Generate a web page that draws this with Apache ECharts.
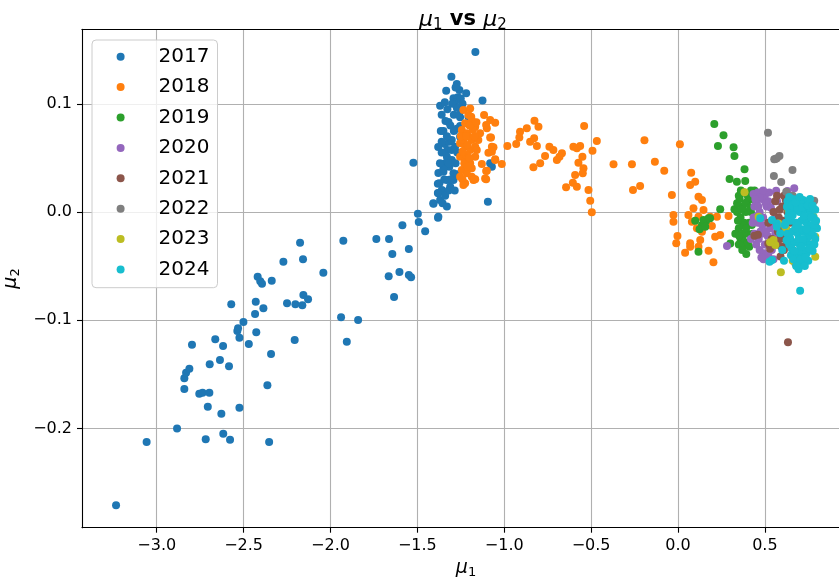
<!DOCTYPE html>
<html><head><meta charset="utf-8">
<script src="https://cdn.jsdelivr.net/npm/echarts@6/dist/echarts.min.js"></script>
<style>html,body{margin:0;padding:0;background:#fff}#c{width:839px;height:583px}</style>
</head><body><div id="c"></div>
<script>
const years = ['2017','2018','2019','2020','2021','2022','2023','2024'];
const colors = ['#1f77b4','#ff7f0e','#2ca02c','#9467bd','#8c564b','#7f7f7f','#bcbd22','#17becf'];
const xTicks = [-3.0,-2.5,-2.0,-1.5,-1.0,-0.5,0.0,0.5];
const yTicks = [-0.2,-0.1,0.0,0.1];

const s2017 = [[-3.234,-0.271],[-3.058,-0.2126],[-2.883,-0.200],[-2.718,-0.210],[-2.617,-0.205],[-2.578,-0.2104],[-2.353,-0.2126],[-2.628,-0.1864],[-2.706,-0.180],[-2.524,-0.181],[-2.755,-0.168],[-2.736,-0.167],[-2.697,-0.167],[-2.841,-0.1636],[-2.841,-0.1537],[-2.831,-0.1485],[-2.812,-0.1448],[-2.797,-0.1226],[-2.695,-0.1408],[-2.636,-0.1368],[-2.584,-0.1426],[-2.663,-0.1177],[-2.618,-0.1238],[-2.363,-0.1602],[-2.342,-0.1312],[-2.470,-0.122],[-2.524,-0.1162],[-2.536,-0.110],[-2.532,-0.1075],[-2.501,-0.1017],[-2.427,-0.1112],[-2.434,-0.0943],[-2.386,-0.089],[-2.430,-0.0829],[-2.571,-0.0853],[-2.419,-0.0598],[-2.404,-0.0640],[-2.394,-0.0663],[-2.338,-0.0635],[-2.271,-0.0459],[-2.175,-0.0284],[-2.158,-0.0437],[-2.250,-0.0844],[-2.202,-0.0853],[-2.162,-0.0862],[-2.156,-0.0767],[-2.129,-0.0807],[-2.206,-0.1183],[-2.041,-0.0561],[-1.926,-0.0265],[-1.939,-0.0973],[-1.841,-0.0998],[-1.906,-0.1199],[-1.736,-0.0250],[-1.663,-0.0250],[-1.644,-0.0388],[-1.586,-0.0123],[-1.549,-0.0342],[-1.665,-0.0594],[-1.603,-0.0555],[-1.549,-0.0582],[-1.536,-0.0604],[-1.634,-0.0786],[-1.497,-0.0016],[-1.492,-0.0092],[-1.455,-0.0178],[-1.523,0.0456],[-1.379,0.036],[-1.382,0.0262],[-1.382,0.0176],[-1.407,0.0077],[-1.381,-0.0053],[-1.166,0.148],[-1.379,-0.0043],[-1.094,0.0095],[-1.304,0.125],[-1.334,0.1121],[-1.273,0.1183],[-1.258,0.1128],[-1.292,0.1051],[-1.219,0.1097],[-1.267,0.1060],[-1.283,0.1010],[-1.369,0.0982],[-1.342,0.1014],[-1.327,0.0949],[-1.273,0.0964],[-1.125,0.1032],[-1.338,0.0841],[-1.321,0.0832],[-1.254,0.0875],[-1.206,0.0881],[-1.273,0.0770],[-1.254,0.0795],[-1.342,0.0628],[-1.327,0.0573],[-1.316,0.0650],[-1.330,0.0511],[-1.340,0.0450],[-1.316,0.0419],[-1.350,0.0373],[-1.330,0.0296],[-1.373,0.0265],[-1.359,0.0203],[-1.379,0.0173],[-1.369,0.0111],[-1.408,0.0080],[-1.302,0.0573],[-1.302,0.0481],[-1.292,0.0358],[-1.311,0.0234],[-1.283,0.0604],[-1.292,0.0296],[-1.302,0.0665],[-1.254,0.0696],[-1.081,0.045],[-1.071,0.0419],[-1.36,0.09],[-1.35,0.075],[-1.33,0.07],[-1.36,0.055],[-1.35,0.04],[-1.32,0.045],[-1.31,0.03],[-1.345,0.03],[-1.36,0.065],[-1.31,0.08],[-1.29,0.09],[-1.30,0.1],[-1.28,0.115],[-1.25,0.105],[-1.24,0.1],[-1.26,0.09],[-1.29,0.075],[-1.32,0.02],[-1.34,0.015],[-1.355,0.008],[-1.33,0.005],[-1.28,0.045],[-1.27,0.055],[-1.27,0.035],[-1.285,0.02],[-1.365,0.075],[-1.37,0.045],[-1.38,0.06]];

const s2018 = [[-1.235,0.0943],[-1.196,0.0958],[-1.206,0.0897],[-1.225,0.0820],[-1.187,0.0850],[-1.167,0.0788],[-1.158,0.0696],[-1.244,0.0758],[-1.215,0.0727],[-1.187,0.0665],[-1.254,0.0635],[-1.225,0.0604],[-1.196,0.0573],[-1.167,0.0604],[-1.254,0.0511],[-1.225,0.0481],[-1.196,0.0450],[-1.167,0.0511],[-1.244,0.0388],[-1.215,0.0358],[-1.187,0.0326],[-1.254,0.0326],[-1.225,0.0265],[-1.177,0.0296],[-1.149,0.0665],[-1.139,0.0727],[-1.158,0.0573],[-1.206,0.0696],[-1.235,0.0665],[-1.215,0.0527],[-1.187,0.0404],[-1.240,0.0560],[-1.210,0.0620],[-1.180,0.0760],[-1.230,0.0450],[-1.200,0.0500],[-1.170,0.0700],[-1.250,0.0700],[-1.220,0.0700],[-1.190,0.0880],[-1.210,0.0420],[-1.240,0.0300],[-1.200,0.0800],[-1.160,0.0830],[-1.081,0.085],[-1.052,0.0825],[-1.100,0.0774],[-1.076,0.069],[-1.071,0.0604],[-1.091,0.0548],[-0.982,0.061],[-1.052,0.0487],[-1.129,0.0444],[-1.100,0.0382],[-1.014,0.0444],[-1.110,0.0311],[-1.167,0.0302],[-1.235,0.025],[-1.104,0.0379],[-1.104,0.0302],[-1.172,0.0302],[-1.052,0.0481],[-1.104,0.0804],[-1.081,0.069],[-1.062,0.0598],[-1.071,0.0557],[-1.116,0.0896],[-0.826,0.0844],[-0.803,0.0788],[-0.870,0.0774],[-0.909,0.0742],[-0.913,0.069],[-0.828,0.0681],[-0.851,0.065],[-0.812,0.061],[-0.931,0.0628],[-0.740,0.0604],[-0.717,0.0573],[-0.668,0.0543],[-0.682,0.0511],[-0.697,0.0481],[-0.765,0.0518],[-0.793,0.0450],[-0.832,0.0413],[-0.540,0.0795],[-0.467,0.0656],[-0.492,0.0567],[-0.602,0.0604],[-0.563,0.061],[-0.582,0.0589],[-0.550,0.0511],[-0.573,0.0456],[-0.544,0.0404],[-0.548,0.0358],[-0.592,0.0342],[-0.605,0.0271],[-0.644,0.0228],[-0.582,0.0234],[-0.515,0.0203],[-0.505,0.0104],[-0.496,-0.0003],[-0.371,0.0441],[-0.265,0.0441],[-0.259,0.0203],[-0.218,0.024],[-0.193,0.0663],[0.011,0.0626],[-0.133,0.0465],[-0.079,0.0382],[-0.035,0.0157],[0.076,0.0363],[0.099,0.028],[0.070,0.025],[0.118,0.0141],[0.138,0.0111],[0.089,0.0034],[0.147,0.0018],[0.118,-0.0043],[0.060,-0.0028],[-0.026,-0.0028],[-0.026,-0.009],[0.080,-0.009],[0.185,-0.0043],[0.224,-0.0043],[0.291,-0.0037],[0.195,-0.0129],[0.138,-0.0182],[0.109,-0.0151],[-0.003,-0.0222],[-0.010,-0.0289],[0.070,-0.0289],[0.070,-0.0321],[0.128,-0.0259],[0.118,-0.0321],[0.041,-0.0376],[0.176,-0.0358],[0.214,-0.0228],[0.243,-0.0213],[0.204,-0.0465]];

const s2019 = [[0.209,0.0813],[0.262,0.0709],[0.230,0.061],[0.320,0.0598],[0.325,0.0518],[0.383,0.0395],[0.297,0.0305],[0.339,0.028],[0.387,0.0287],[0.243,0.0025],[0.325,0.0025],[0.185,-0.0058],[0.162,-0.008],[0.138,-0.012],[0.124,-0.016],[0.099,-0.008],[0.118,-0.0367],[0.393,-0.0388],[0.147,-0.0074],[0.176,-0.0058],[0.157,-0.0136],[0.301,-0.029],[0.35,0.015],[0.37,0.005],[0.36,-0.005],[0.35,-0.015],[0.37,-0.025],[0.39,-0.03],[0.40,0.01],[0.41,-0.01],[0.38,0.018],[0.42,0.02],[0.44,0.02],[0.45,0.015],[0.34,0.0],[0.36,-0.025],[0.33,-0.02],[0.35,-0.03],[0.40,-0.02],[0.38,-0.01],[0.42,0.0],[0.43,-0.02],[0.39,0.0],[0.34,0.008],[0.37,-0.035],[0.41,0.012],[0.355,0.012],[0.372,-0.012],[0.388,0.008],[0.402,-0.028],[0.415,0.004],[0.345,-0.008],[0.362,0.02],[0.398,0.016],[0.425,-0.012],[0.378,-0.02],[0.352,-0.022],[0.41,-0.032],[0.365,0.002],[0.392,-0.015],[0.43,0.012]];

const s2020 = [[0.282,-0.0314],[0.565,0.0197],[0.630,0.0194],[0.669,0.0219],[0.435,0.0166],[0.492,-0.0437],[0.550,-0.0437],[0.45,0.01],[0.47,0.0],[0.46,-0.01],[0.48,-0.02],[0.50,-0.03],[0.52,0.01],[0.50,0.015],[0.49,-0.005],[0.44,-0.02],[0.45,-0.03],[0.53,-0.015],[0.55,0.0],[0.56,-0.02],[0.54,-0.035],[0.47,-0.035],[0.43,-0.01],[0.51,0.005],[0.48,0.012],[0.42,-0.025],[0.57,0.01],[0.58,-0.01],[0.46,0.018],[0.52,-0.04],[0.44,0.005],[0.455,-0.004],[0.472,0.014],[0.485,-0.012],[0.505,0.008],[0.515,-0.022],[0.465,-0.025],[0.495,-0.038],[0.535,0.004],[0.545,-0.01],[0.525,0.018],[0.475,-0.018],[0.445,0.012],[0.505,-0.018],[0.555,-0.028],[0.435,-0.005],[0.49,0.02],[0.565,-0.005],[0.53,-0.045],[0.48,-0.042],[0.462,0.005]];

const s2021 = [[0.633,-0.1204],[0.56,0.010],[0.62,0.011],[0.58,-0.005],[0.60,-0.015],[0.59,-0.025],[0.61,-0.035],[0.63,0.0],[0.64,-0.02],[0.57,-0.03],[0.52,-0.01],[0.54,-0.025],[0.44,-0.022],[0.46,-0.021],[0.52,-0.029],[0.53,-0.034],[0.59,-0.041],[0.65,0.005],[0.60,0.005],[0.66,-0.035],[0.55,0.0],[0.585,0.002],[0.605,-0.008],[0.615,-0.022],[0.625,-0.03],[0.575,-0.018],[0.595,-0.032],[0.645,-0.01],[0.57,0.015],[0.61,0.015]];

const s2022 = [[0.518,0.0733],[0.554,0.0487],[0.561,0.049],[0.569,0.0496],[0.584,0.0518],[0.659,0.0388],[0.552,0.0333],[0.594,0.0277],[0.623,0.0188],[0.784,0.0104],[0.780,-0.0296],[0.790,-0.0105],[0.675,-0.0474],[0.713,-0.0413],[0.77,0.005],[0.66,0.015],[0.70,0.012]];

const s2023 = [[0.383,0.0182],[0.592,-0.0557],[0.464,-0.0043],[0.550,-0.0259],[0.560,-0.0305],[0.617,-0.0136],[0.627,-0.0166],[0.703,-0.0474],[0.780,-0.0043],[0.790,-0.0228],[0.790,-0.0413],[0.636,0.0018],[0.579,-0.0105],[0.53,-0.028],[0.66,-0.045],[0.74,0.008],[0.69,-0.04]];

const s2024 = [[0.63,0.010],[0.66,0.012],[0.69,0.012],[0.72,0.011],[0.75,0.010],[0.64,0.0],[0.67,0.002],[0.70,0.0],[0.73,0.002],[0.76,0.0],[0.78,-0.005],[0.62,-0.010],[0.65,-0.008],[0.68,-0.010],[0.71,-0.008],[0.74,-0.010],[0.77,-0.012],[0.63,-0.020],[0.66,-0.018],[0.69,-0.020],[0.72,-0.018],[0.75,-0.020],[0.78,-0.022],[0.64,-0.030],[0.67,-0.028],[0.70,-0.030],[0.73,-0.028],[0.76,-0.030],[0.79,-0.025],[0.65,-0.040],[0.68,-0.038],[0.71,-0.040],[0.74,-0.038],[0.72,-0.047],[0.75,-0.045],[0.69,-0.046],[0.80,-0.015],[0.79,0.002],[0.703,-0.0727],[0.694,-0.053],[0.473,-0.0058],[0.527,-0.046],[0.569,-0.0105],[0.588,-0.0197],[0.627,0.0049],[0.646,-0.0012],[0.541,-0.0074],[0.569,-0.0136],[0.541,-0.0444],[0.60,-0.035],[0.61,-0.045],[0.635,-0.004],[0.655,0.006],[0.675,-0.015],[0.685,0.004],[0.695,-0.025],[0.705,0.008],[0.715,-0.016],[0.725,-0.035],[0.735,-0.006],[0.745,-0.024],[0.755,0.004],[0.765,-0.018],[0.775,-0.036],[0.785,-0.012],[0.645,-0.024],[0.655,-0.034],[0.665,-0.044],[0.675,0.009],[0.695,-0.036],[0.705,-0.044],[0.715,0.004],[0.725,-0.004],[0.735,-0.042],[0.745,0.006],[0.755,-0.034],[0.765,-0.005],[0.775,0.006],[0.785,-0.03],[0.795,-0.008],[0.625,-0.026],[0.615,-0.012],[0.64,0.014],[0.70,0.014],[0.76,0.012],[0.68,-0.05],[0.73,-0.05],[0.66,-0.003],[0.72,-0.025],[0.74,-0.016],[0.69,-0.012],[0.71,-0.032],[0.67,-0.036]];

const seriesData = [s2017,s2018,s2019,s2020,s2021,s2022,s2023,s2024];

const FONT = 'DejaVu Sans';
const fmt = v => (v < 0 ? '\u2212' : '') + Math.abs(v).toFixed(1);
const xMin = -3.43, xMax = 0.99, yMin = -0.2918, yMax = 0.1689;
const subRich = {
  m: {fontFamily: FONT, fontSize: 19, fontStyle: 'italic', fontWeight: 'normal', color: '#000', lineHeight: 22},
  s: {fontFamily: FONT, fontSize: 13, fontWeight: 'normal', color: '#000', lineHeight: 12, verticalAlign: 'bottom'}
};

const chart = echarts.init(document.getElementById('c'), null, {renderer:'canvas'});
chart.setOption({
  animation: false,
  backgroundColor: '#fff',
  title: {
    text: '{m|μ}{s|1}{b| vs }{m|μ}{s|2}',
    left: 414, top: 2,
    textStyle: {
      fontWeight: 'normal',
      rich: {
        m: {fontFamily: FONT, fontSize: 22, fontStyle: 'italic', fontWeight: 'normal', color: '#000', lineHeight: 26},
        s: {fontFamily: FONT, fontSize: 15, fontWeight: 'normal', color: '#000', lineHeight: 14, verticalAlign: 'bottom'},
        b: {fontFamily: FONT, fontSize: 21, fontWeight: 'bold', color: '#000', lineHeight: 26}
      }
    }
  },
  grid: {left: 82, top: 29.3, width: 768, height: 498.4, containLabel: false, outerBoundsMode: 'none'},
  legend: {
    orient: 'vertical', left: 92, top: 40,
    padding: [6.7, 8, 8.2, 24.6],
    itemWidth: 8, itemHeight: 8, itemGap: 10.4, icon: 'circle',
    textStyle: {fontFamily: FONT, fontSize: 20, lineHeight: 20, color: '#000', padding: [0,0,0,29]},
    backgroundColor: 'rgba(255,255,255,0.8)', borderColor: '#cccccc', borderWidth: 1, borderRadius: 4,
    data: years
  },
  xAxis: [{
    type: 'value', min: xMin, max: xMax,
    name: '{m|μ}{s|1}', nameLocation: 'middle', nameGap: 26,
    nameTextStyle: {rich: subRich},
    axisLine: {show: true, onZero: false, lineStyle: {color: '#000', width: 1.1}},
    axisTick: {show: true, length: 5, customValues: xTicks, lineStyle: {color: '#000', width: 1.1}},
    axisLabel: {customValues: xTicks, formatter: fmt, fontFamily: FONT, fontSize: 16, color: '#000', margin: 10},
    splitLine: {show: true, lineStyle: {color: '#b0b0b0', width: 1.1}}
  }, {
    type: 'value', position: 'top', min: xMin, max: xMax,
    axisLine: {show: true, onZero: false, lineStyle: {color: '#000', width: 1.1}},
    axisTick: {show: false}, axisLabel: {show: false}, splitLine: {show: false}
  }],
  yAxis: [{
    type: 'value', min: yMin, max: yMax,
    name: '{m|μ}{s|2}', nameLocation: 'middle', nameGap: 56, nameRotate: 90,
    nameTextStyle: {rich: subRich},
    axisLine: {show: true, onZero: false, lineStyle: {color: '#000', width: 1.1}},
    axisTick: {show: true, length: 5, customValues: yTicks, lineStyle: {color: '#000', width: 1.1}},
    axisLabel: {customValues: yTicks, formatter: fmt, fontFamily: FONT, fontSize: 16, color: '#000', margin: 10},
    splitLine: {show: true, lineStyle: {color: '#b0b0b0', width: 1.1}}
  }],
  series: years.map((y, i) => ({
    name: y, type: 'scatter', xAxisIndex: 0, yAxisIndex: 0,
    data: seriesData[i], symbol: 'circle', symbolSize: 8,
    itemStyle: {color: colors[i], opacity: 1},
    emphasis: {disabled: true}
  }))
});
</script></body></html>
